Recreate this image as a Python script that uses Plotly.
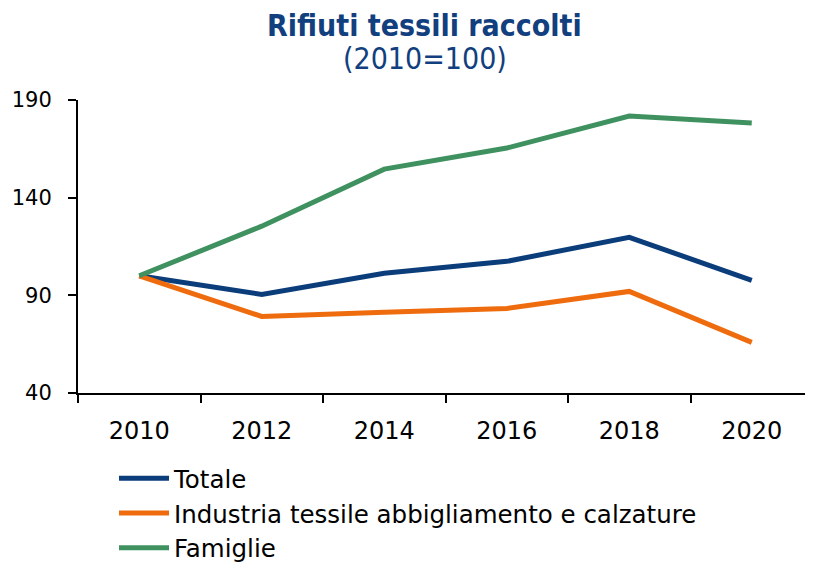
import plotly.graph_objects as go

years = ["2010", "2012", "2014", "2016", "2018", "2020"]
totale = [100, 90.5, 101.3, 107.4, 119.7, 97.7]
industria = [100, 79.2, 81.3, 83.3, 92.0, 65.9]
famiglie = [100, 125.4, 154.6, 165.4, 181.8, 178.2]

series = [
    ("Totale", totale, "#0B3D7B"),
    ("Industria tessile abbigliamento e calzature", industria, "#EE6C0E"),
    ("Famiglie", famiglie, "#3F9160"),
]

fig = go.Figure()
for name, vals, col in series:
    fig.add_trace(go.Scatter(x=years, y=vals, name=name, mode="lines",
                             line=dict(color=col, width=5)))

font_main = "'DejaVu Sans', sans-serif"
font_title = "'Liberation Sans Narrow', 'DejaVu Sans Condensed', sans-serif"

# page body has an 8px margin: figure is placed at (8, 8)
fig.update_layout(
    width=805, height=554,
    margin=dict(l=70, r=0, t=92, b=169, autoexpand=False),
    plot_bgcolor="white", paper_bgcolor="white",
    font=dict(family=font_main, size=24, color="black"),
    showlegend=True,
    legend=dict(x=0.049, y=-0.214, xanchor="left", yanchor="top",
                font=dict(size=24.5), tracegroupgap=0, itemwidth=50,
                bgcolor="rgba(0,0,0,0)"),
    xaxis=dict(type="category", range=[-0.5, 5.5], showline=True,
               linecolor="black", linewidth=2, ticks="outside",
               tickson="boundaries", ticklen=8, tickcolor="black",
               tickwidth=1.5, showgrid=False, zeroline=False,
               automargin=False, ticklabelstandoff=15,
               tickfont=dict(size=24)),
    yaxis=dict(range=[40, 190], tickvals=[40, 90, 140, 190], showline=True,
               linecolor="black", linewidth=2, ticks="outside", ticklen=8,
               tickcolor="black", tickwidth=1.5, showgrid=False,
               zeroline=False, automargin=False, ticklabelstandoff=12,
               tickfont=dict(size=21)),
    annotations=[
        dict(text="<b>Rifiuti tessili raccolti</b>", xref="paper", yref="paper",
             x=0.472, y=1.0, yshift=75, showarrow=False, xanchor="center",
             yanchor="middle",
             font=dict(family=font_title, size=30, color="#123F7E")),
        dict(text="(2010=100)", xref="paper", yref="paper",
             x=0.472, y=1.0, yshift=42, showarrow=False, xanchor="center",
             yanchor="middle",
             font=dict(family=font_title, size=30, color="#123F7E")),
    ],
)

fig.write_html("out.html")
